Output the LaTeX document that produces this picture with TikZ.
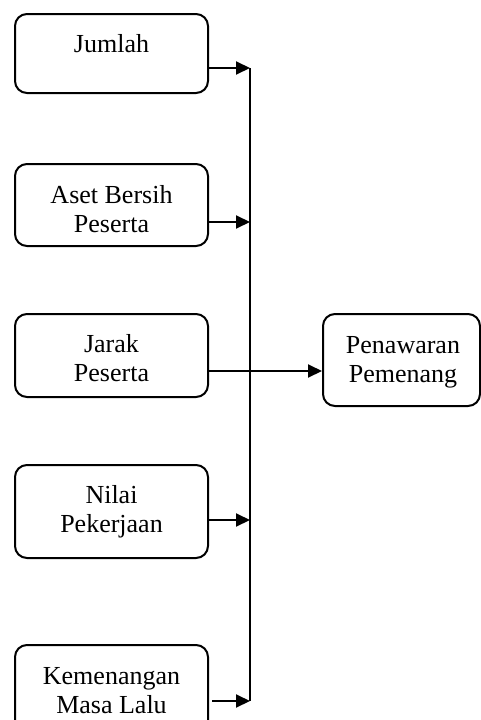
\documentclass[tikz,border=0pt]{standalone}
\usepackage{fontspec}
\setmainfont{Liberation Serif}
\usetikzlibrary{arrows.meta}
\tikzset{
  box/.style={draw, line width=2pt, rounded corners=12pt, rectangle, inner sep=0pt},
  lbl/.style={anchor=base, inner sep=0pt, font=\fontsize{26}{29}\selectfont},
  arr/.style={line width=2pt, -{Triangle[length=14pt,width=13pt]}},
  spine/.style={line width=2pt}
}
\newcommand{\twol}[2]{\begin{tabular}[t]{@{}c@{}}#1\\#2\end{tabular}}
\begin{document}
\begin{tikzpicture}[x=1pt,y=-1pt]
\useasboundingbox (0,0) rectangle (481,720);
\clip (0,0) rectangle (481,720);
\node[box, minimum width=193pt, minimum height=79pt] (b1) at (111.5,53.5) {};
\node[box, minimum width=193pt, minimum height=82pt] (b2) at (111.5,205) {};
\node[box, minimum width=193pt, minimum height=83pt] (b3) at (111.5,355.5) {};
\node[box, minimum width=193pt, minimum height=93pt] (b4) at (111.5,511.5) {};
\node[box, minimum width=193pt, minimum height=100pt] (b5) at (111.5,695) {};
\node[box, minimum width=157pt, minimum height=92pt] (pen) at (401.5,360) {};
\node[lbl] (t1) at (111.5,52) {Jumlah};
\node[lbl] (t2) at (111.5,203) {\twol{Aset Bersih}{Peserta}};
\node[lbl] (t3) at (111.5,352) {\twol{Jarak}{Peserta}};
\node[lbl] (t4) at (111.5,503) {\twol{Nilai}{Pekerjaan}};
\node[lbl] (t5) at (111.5,684) {\twol{Kemenangan}{Masa Lalu}};
\node[lbl] (tp) at (403,353) {\twol{Penawaran}{Pemenang}};
\coordinate (j1) at (250,68);
\coordinate (j2) at (250,222);
\coordinate (j3) at (250,371);
\coordinate (j4) at (250,520);
\coordinate (j5) at (250,701);
\draw[spine] (j1) -- (j5);
\draw[arr] (b1.east |- j1) -- (j1);
\draw[arr] (b2.east |- j2) -- (j2);
\draw[arr] (b3.east |- j3) -- (pen.west |- j3);
\draw[arr] (b4.east |- j4) -- (j4);
\draw[arr] ([xshift=3pt]b5.east |- j5) -- (j5);
\end{tikzpicture}
\end{document}
